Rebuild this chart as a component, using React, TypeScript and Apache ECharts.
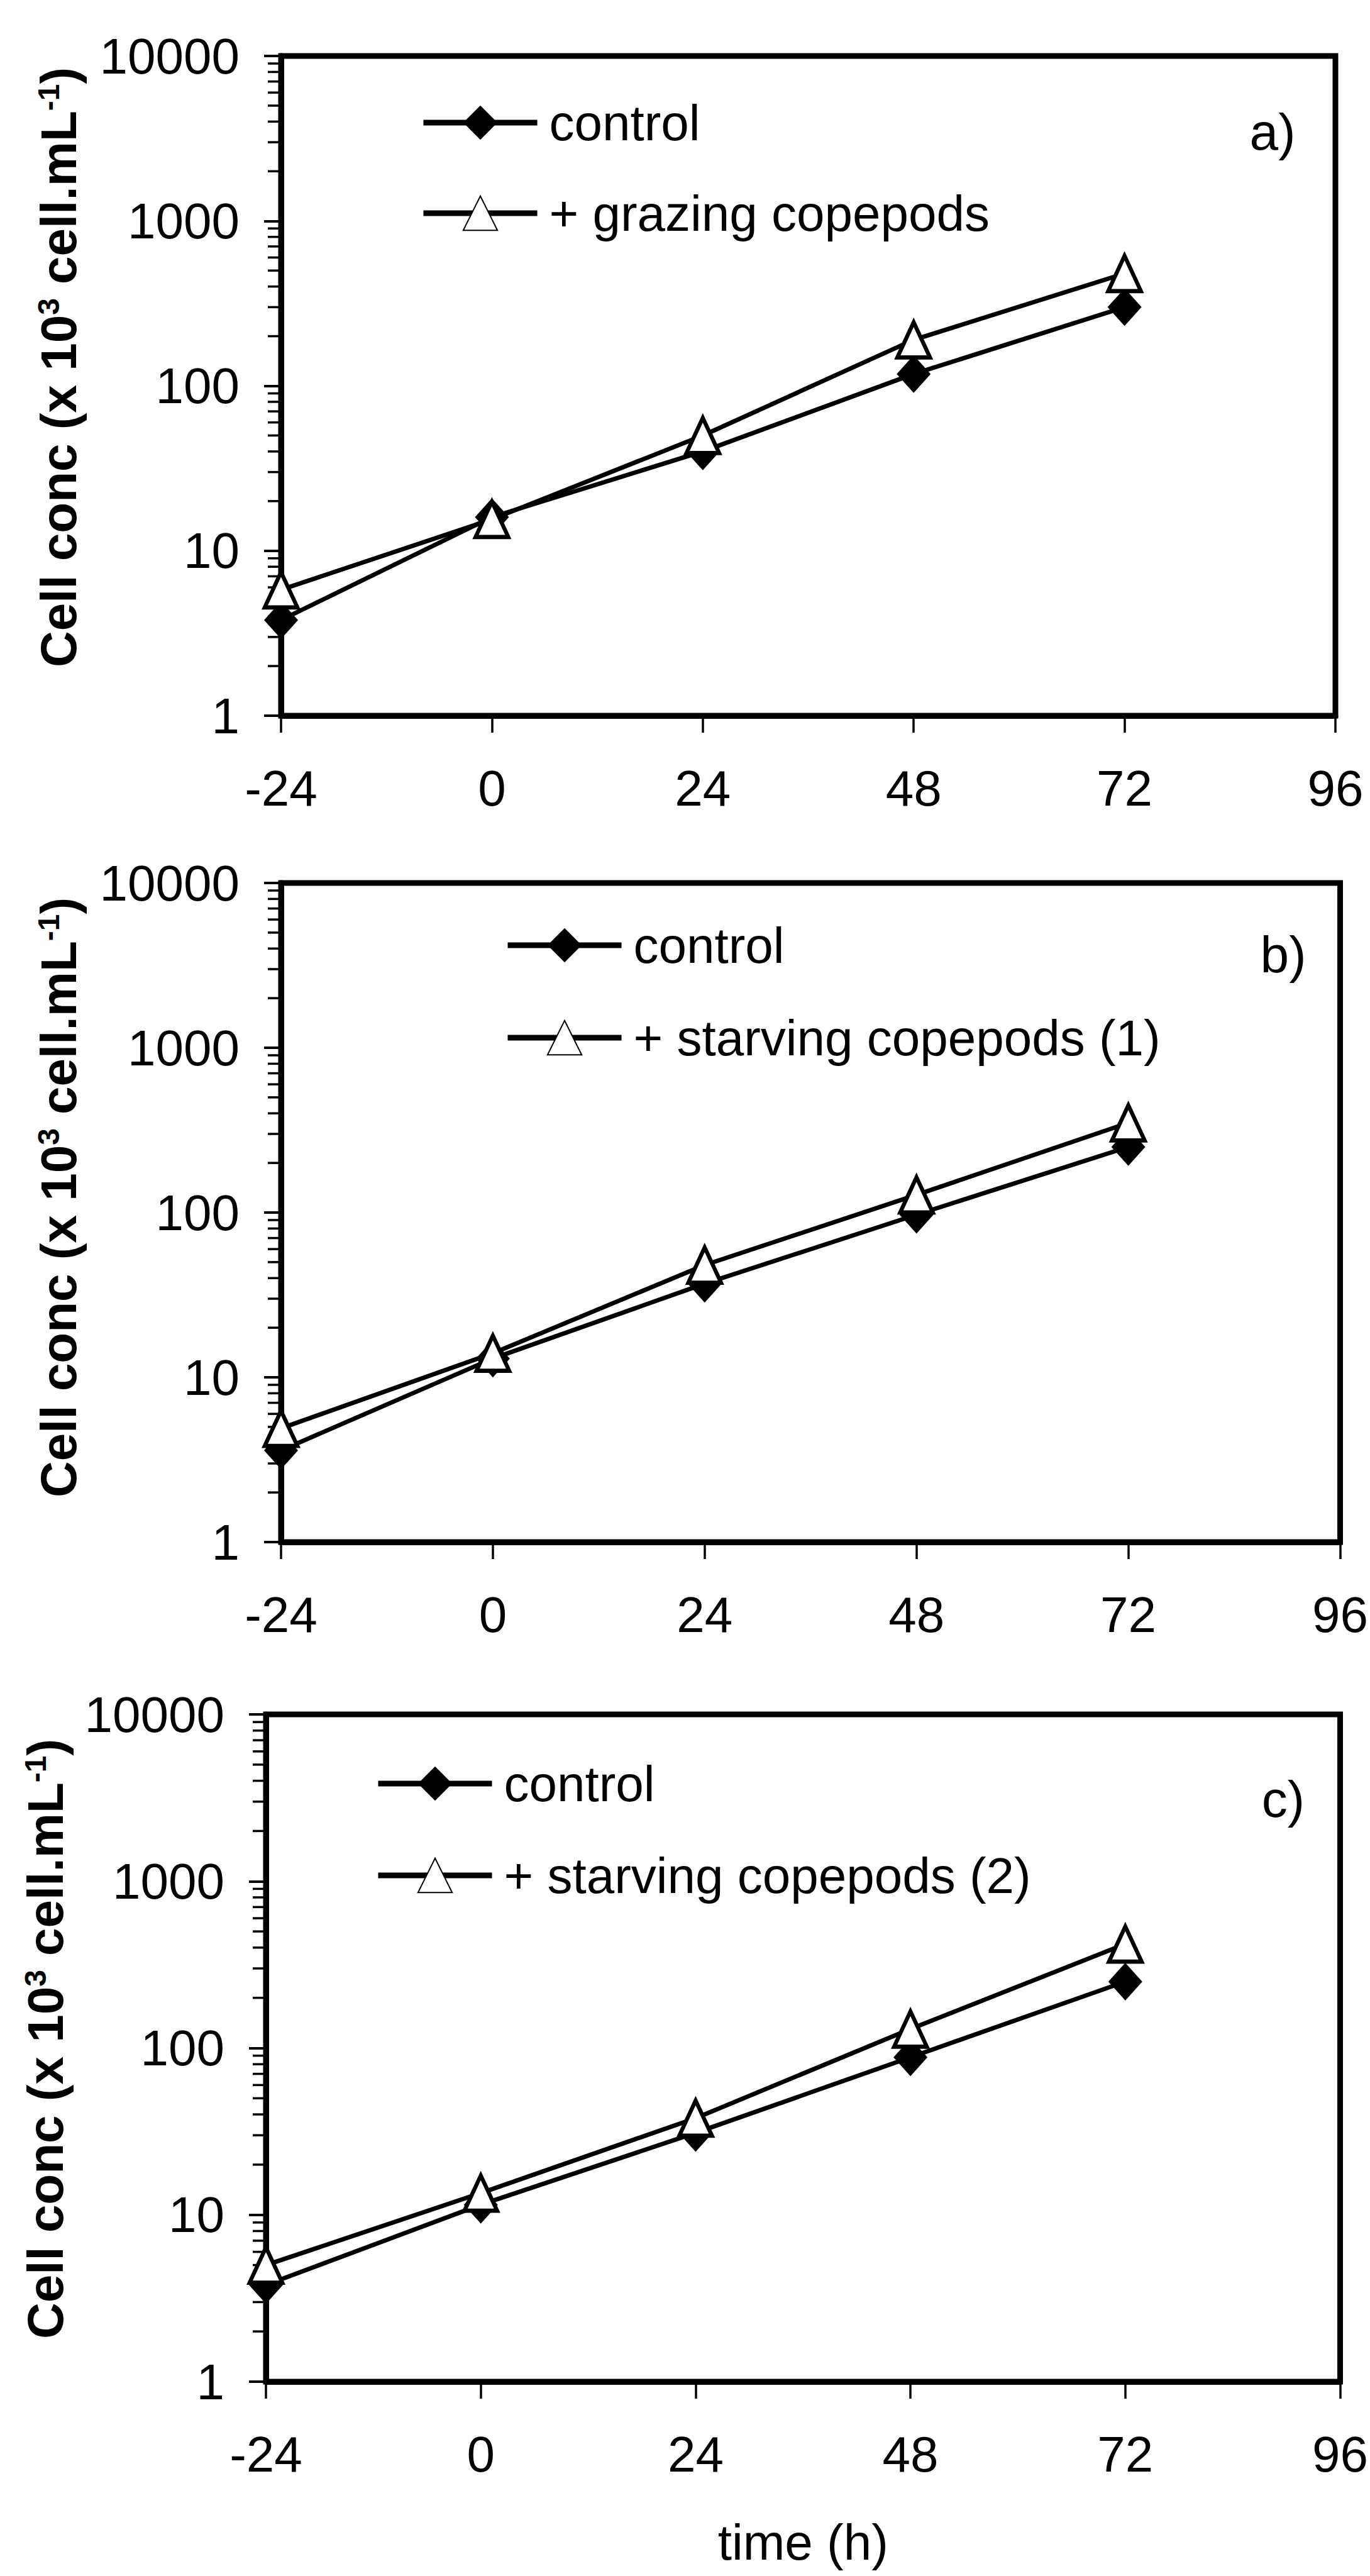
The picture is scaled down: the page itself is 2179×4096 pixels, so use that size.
import React, { useEffect, useRef } from 'react';
import * as echarts from 'echarts';

const W = 2179;
const H = 4096;
const FONT = '"Liberation Sans", Arial, Helvetica, sans-serif';

// time axis (h)
const times = [-24, 0, 24, 48, 72];
const X_MIN = -24;
const X_MAX = 96;
const X_STEP = 24;
const Y_MIN = 1;
const Y_MAX = 10000;

// panel a
const controlA = [3.8, 16, 40, 118, 300];
const grazingA = [5.8, 15.5, 50, 190, 480];
// panel b
const controlB = [3.6, 13, 37, 97, 250];
const starving1B = [4.9, 14, 48, 128, 350];
// panel c
const controlC = [3.8, 11.5, 31, 88, 250];
const starving2C = [5.0, 13.5, 38, 130, 420];

// minor ticks of the log axis
const minorTicks = [
  2, 3, 4, 5, 6, 7, 8, 9,
  20, 30, 40, 50, 60, 70, 80, 90,
  200, 300, 400, 500, 600, 700, 800, 900,
  2000, 3000, 4000, 5000, 6000, 7000, 8000, 9000,
];

const controlName = 'control';
const treatNames = ['+ grazing copepods', '+ starving copepods (1)', '+ starving copepods (2)'];
const tags = ['a)', 'b)', 'c)'];
const yTitle = 'Cell conc (x 10{sup|3} cell.mL{sup|-1})';
const xTitle = 'time (h)';

export default function App() {
  const ref = useRef<HTMLDivElement>(null);

  useEffect(() => {
    const chart = echarts.init(ref.current as HTMLDivElement, null, {
      renderer: 'svg',
      width: W,
      height: H,
    });

    const panels = [
      {
        grid: { left: 447, right: 55, top: 89, height: 1049 },
        control: controlA,
        treat: grazingA,
        legend: { left: 669, top: 155, gap: 64 },
        tagPos: [2024, 209],
        yLabPos: [93, 584],
      },
      {
        grid: { left: 447, right: 47, top: 1404, height: 1048 },
        control: controlB,
        treat: starving1B,
        legend: { left: 803, top: 1463, gap: 67 },
        tagPos: [2041, 1517],
        yLabPos: [93, 1904],
      },
      {
        grid: { left: 423, right: 47, top: 2726, height: 1061 },
        control: controlC,
        treat: starving2C,
        legend: { left: 597, top: 2796, gap: 66 },
        tagPos: [2041, 2860],
        yLabPos: [72, 3242],
      },
    ];

    const grid = panels.map((p) => ({
      ...p.grid,
      show: true,
      borderColor: '#000',
      borderWidth: 9,
      backgroundColor: 'transparent',
    }));

    const xAxis = panels.map((_, i) => ({
      type: 'value',
      gridIndex: i,
      min: X_MIN,
      max: X_MAX,
      interval: X_STEP,
      axisLine: { show: true, onZero: false, lineStyle: { color: '#000', width: 9 } },
      axisTick: { show: true, length: 27, lineStyle: { color: '#000', width: 3.5 } },
      axisLabel: {
        margin: 75,
        fontSize: 80,
        lineHeight: 80,
        fontFamily: FONT,
        color: '#000',
      },
      splitLine: { show: false },
      ...(i === 2
        ? {
            name: xTitle,
            nameLocation: 'middle',
            nameGap: 215,
            nameTextStyle: { fontSize: 80, lineHeight: 80, fontFamily: FONT, color: '#000' },
          }
        : {}),
    }));

    const yAxis = panels.map((_, i) => ({
      type: 'log',
      logBase: 10,
      gridIndex: i,
      min: Y_MIN,
      max: Y_MAX,
      axisLine: { show: true, onZero: false, lineStyle: { color: '#000', width: 9 } },
      axisTick: { show: true, length: 27, lineStyle: { color: '#000', width: 4 } },
      axisLabel: {
        margin: 66,
        fontSize: 80,
        lineHeight: 80,
        fontFamily: FONT,
        color: '#000',
        formatter: (v: number) => String(Math.round(v)),
      },
      splitLine: { show: false },
    }));

    const series: any[] = [];
    panels.forEach((p, i) => {
      series.push({
        type: 'custom',
        xAxisIndex: i,
        yAxisIndex: i,
        silent: true,
        clip: false,
        data: minorTicks.map((v) => [X_MIN, v]),
        renderItem: (_params: any, api: any) => {
          const pt = api.coord([api.value(0), api.value(1)]);
          return {
            type: 'line',
            shape: { x1: pt[0] - 21, y1: pt[1], x2: pt[0], y2: pt[1] },
            style: { stroke: '#000', lineWidth: 3.5 },
          };
        },
      });
      series.push({
        type: 'line',
        name: controlName,
        xAxisIndex: i,
        yAxisIndex: i,
        data: times.map((t, j) => [t, p.control[j]]),
        symbol: 'diamond',
        symbolSize: [54, 60],
        itemStyle: { color: '#000' },
        lineStyle: { color: '#000', width: 7 },
        emphasis: { disabled: true },
        z: 3,
      });
      series.push({
        type: 'line',
        name: treatNames[i],
        xAxisIndex: i,
        yAxisIndex: i,
        data: times.map((t, j) => [t, p.treat[j]]),
        symbol: 'triangle',
        symbolSize: [52, 56],
        itemStyle: { color: '#fff', borderColor: '#000', borderWidth: 6.5 },
        lineStyle: { color: '#000', width: 7 },
        emphasis: { disabled: true },
        z: 4,
      });
    });

    const legend = panels.map((p, i) => ({
      data: [controlName, treatNames[i]],
      orient: 'vertical',
      left: p.legend.left,
      top: p.legend.top,
      itemWidth: 181,
      itemHeight: 68,
      itemGap: p.legend.gap,
      padding: 0,
      selectedMode: false,
      lineStyle: { width: 9 },
      textStyle: {
        fontSize: 80,
        fontFamily: FONT,
        color: '#000',
        padding: [0, 0, 0, 14],
      },
    }));

    const graphic: any[] = [];
    panels.forEach((p, i) => {
      graphic.push({
        type: 'text',
        x: p.tagPos[0],
        y: p.tagPos[1],
        silent: true,
        style: {
          text: tags[i],
          fontSize: 82,
          fontFamily: FONT,
          fill: '#000',
          align: 'center',
          verticalAlign: 'middle',
        },
      });
      graphic.push({
        type: 'text',
        x: p.yLabPos[0],
        y: p.yLabPos[1],
        rotation: Math.PI / 2,
        silent: true,
        style: {
          text: yTitle,
          fontSize: 80,
          fontWeight: 'bold',
          fontFamily: FONT,
          fill: '#000',
          align: 'center',
          verticalAlign: 'middle',
          lineHeight: 80,
          rich: {
            sup: {
              fontSize: 48,
              fontWeight: 'bold',
              fontFamily: FONT,
              fill: '#000',
              lineHeight: 48,
              verticalAlign: 'top',
            },
          },
        },
      });
    });

    chart.setOption({
      animation: false,
      backgroundColor: '#fff',
      grid,
      xAxis,
      yAxis,
      legend,
      series,
      graphic,
    });

    return () => {
      chart.dispose();
    };
  }, []);

  return (
    <div
      ref={ref}
      style={{ position: 'absolute', left: 0, top: 0, width: W, height: H, background: '#fff' }}
    />
  );
}
